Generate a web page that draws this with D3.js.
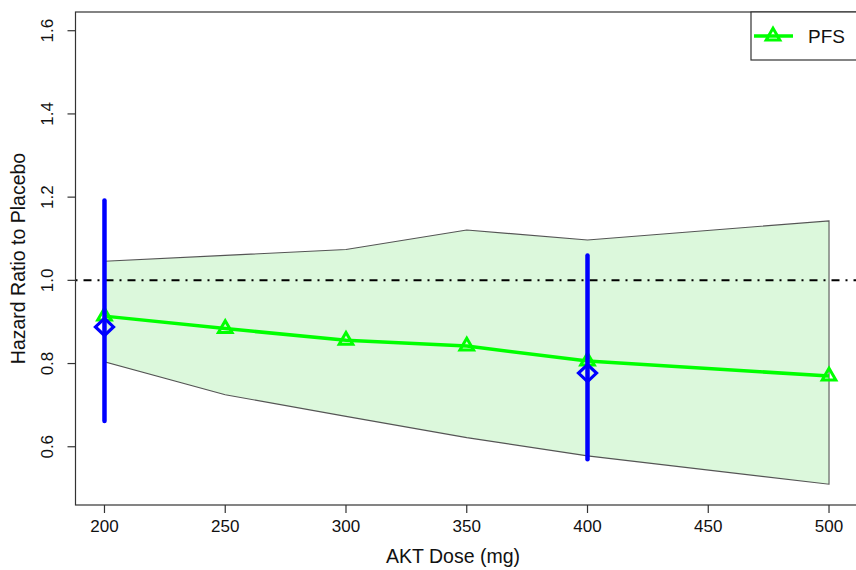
<!DOCTYPE html>
<html>
<head>
<meta charset="utf-8">
<script src="https://cdn.jsdelivr.net/npm/d3@7"></script>
<style>
  html, body { margin: 0; padding: 0; background: #fff; }
  svg { display: block; font-family: "Liberation Sans", Arial, sans-serif; }
</style>
</head>
<body>
<svg id="chart" width="856" height="570"></svg>
<script>
// ---- data ----
const doses      = [200, 250, 300, 350, 400, 500];
const pfsHR      = [0.914, 0.884, 0.856, 0.842, 0.806, 0.770];
const bandLower  = [0.804, 0.725, 0.673, 0.622, 0.578, 0.510];
const bandUpper  = [1.046, 1.060, 1.074, 1.121, 1.097, 1.143];
const estDoses   = [200, 400];
const estHR      = [0.888, 0.777];
const estLower   = [0.662, 0.570];
const estUpper   = [1.192, 1.060];
const xTicks     = [200, 250, 300, 350, 400, 450, 500];
const yTicks     = [0.6, 0.8, 1.0, 1.2, 1.4, 1.6];
const refLine    = 1.0;
const legendLabel = "PFS";
const xTitle = "AKT Dose (mg)";
const yTitle = "Hazard Ratio to Placebo";

// ---- layout ----
const svg = d3.select("#chart");
const L = 75.5, R = 858, T = 12, B = 505;
const x = d3.scaleLinear().domain([188, 512]).range([L, R]);
const y = d3.scaleLinear().domain([0.46, 1.645]).range([B, T]);
const green = "#00ff00", blue = "#0000ff";

svg.append("clipPath").attr("id", "plotclip")
  .append("rect").attr("x", L).attr("y", T).attr("width", R - L).attr("height", B - T);
const plot = svg.append("g").attr("clip-path", "url(#plotclip)");

// band
const bandData = doses.map((d, i) => ({d, lo: bandLower[i], hi: bandUpper[i]}));
const poly = bandData.map(p => [x(p.d), y(p.hi)])
  .concat(bandData.slice().reverse().map(p => [x(p.d), y(p.lo)]));
plot.append("path")
  .attr("d", d3.line()(poly) + "Z")
  .attr("fill", "#dcf8dc")
  .attr("stroke", "#555")
  .attr("stroke-width", 1.1);

// reference line
plot.append("line")
  .attr("x1", L).attr("x2", R)
  .attr("y1", y(refLine)).attr("y2", y(refLine))
  .attr("stroke", "#000").attr("stroke-width", 2)
  .attr("stroke-dasharray", "2,6,8,6");

// PFS line
const pts = doses.map((d, i) => ({d, v: pfsHR[i]}));
plot.append("path")
  .attr("d", d3.line().x(p => x(p.d)).y(p => y(p.v))(pts))
  .attr("fill", "none").attr("stroke", green).attr("stroke-width", 3.5)
  .attr("stroke-linejoin", "round");

function triPath(cx, cy) {
  const r = 7.8, xc = 6.8, yc = 3.9;
  return `M${cx},${cy - r}L${cx + xc},${cy + yc}L${cx - xc},${cy + yc}Z`;
}
plot.selectAll("path.tri").data(pts).enter()
  .append("path").attr("class", "tri")
  .attr("d", p => triPath(x(p.d), y(p.v)))
  .attr("fill", "none").attr("stroke", green).attr("stroke-width", 3)
  .attr("stroke-linejoin", "miter");

// estimates with CIs
const est = estDoses.map((d, i) => ({d, v: estHR[i], lo: estLower[i], hi: estUpper[i]}));
plot.selectAll("line.ci").data(est).enter()
  .append("line").attr("class", "ci")
  .attr("x1", p => x(p.d)).attr("x2", p => x(p.d))
  .attr("y1", p => y(p.lo)).attr("y2", p => y(p.hi))
  .attr("stroke", blue).attr("stroke-width", 4.5).attr("stroke-linecap", "round");
plot.selectAll("path.dia").data(est).enter()
  .append("path").attr("class", "dia")
  .attr("d", p => {
    const cx = x(p.d), cy = y(p.v), h = 9, v = 8.5;
    return `M${cx},${cy - v}L${cx + h},${cy}L${cx},${cy + v}L${cx - h},${cy}Z`;
  })
  .attr("fill", "none").attr("stroke", blue).attr("stroke-width", 3.2);

// box
svg.append("rect").attr("x", L).attr("y", T).attr("width", R - L).attr("height", B - T)
  .attr("fill", "none").attr("stroke", "#333").attr("stroke-width", 1.2);

// x axis
const xAxis = svg.append("g");
xAxis.selectAll("line").data(xTicks).enter().append("line")
  .attr("x1", d => x(d)).attr("x2", d => x(d))
  .attr("y1", B).attr("y2", B + 8)
  .attr("stroke", "#333").attr("stroke-width", 1.2);
xAxis.selectAll("text").data(xTicks).enter().append("text")
  .attr("x", d => x(d)).attr("y", B + 26.5)
  .attr("text-anchor", "middle").attr("font-size", 17).attr("fill", "#111")
  .text(d => d);
svg.append("text").attr("x", 453).attr("y", 563)
  .attr("text-anchor", "middle").attr("font-size", 19.5).attr("fill", "#111")
  .text(xTitle);

// y axis
const yAxis = svg.append("g");
yAxis.selectAll("line").data(yTicks).enter().append("line")
  .attr("x1", L - 8).attr("x2", L)
  .attr("y1", d => y(d)).attr("y2", d => y(d))
  .attr("stroke", "#333").attr("stroke-width", 1.2);
yAxis.selectAll("text").data(yTicks).enter().append("text")
  .attr("transform", d => `translate(53,${y(d)}) rotate(-90)`)
  .attr("text-anchor", "middle").attr("font-size", 17).attr("fill", "#111")
  .text(d => d.toFixed(1));
svg.append("text")
  .attr("transform", `translate(25,${(T + B) / 2}) rotate(-90)`)
  .attr("text-anchor", "middle").attr("font-size", 19.5).attr("fill", "#111")
  .text(yTitle);

// legend
const lg = svg.append("g");
lg.append("rect").attr("x", 751).attr("y", T).attr("width", R - 751).attr("height", 48)
  .attr("fill", "#fff").attr("stroke", "#333").attr("stroke-width", 1.2);
lg.append("line").attr("x1", 754).attr("x2", 793).attr("y1", 36).attr("y2", 36)
  .attr("stroke", green).attr("stroke-width", 3.5);
lg.append("path").attr("d", triPath(773, 36))
  .attr("fill", "none").attr("stroke", green).attr("stroke-width", 3);
lg.append("text").attr("x", 808).attr("y", 43)
  .attr("font-size", 19).attr("fill", "#111").text(legendLabel);
</script>
</body>
</html>
